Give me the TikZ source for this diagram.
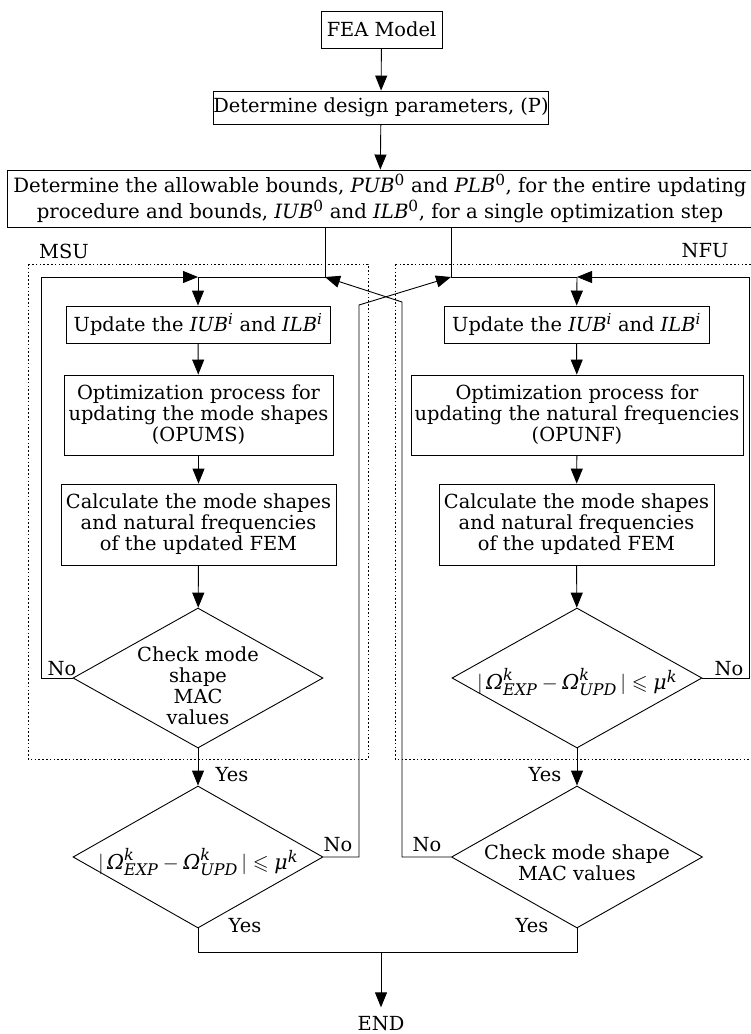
\RequirePackage{fix-cm}
\documentclass[tikz,border=0pt]{standalone}
\usepackage{amsmath,amssymb}
\usepackage{fontspec}
\setmainfont{DejaVu Serif}
\usetikzlibrary{arrows.meta,shapes.geometric}

\renewcommand{\defaultscriptratio}{.78}
\newcommand{\bodysize}{\fontsize{19.4}{21}\selectfont}
\newcommand{\widesize}{\fontsize{19.7}{26}\selectfont}
\newcommand{\formsize}{\fontsize{20.5}{21}\selectfont}
\newcommand{\vit}[1]{\text{\itshape #1}}
\newcommand{\freqtest}{$|\,\vit{Ω}^{\vit{k}}_{\vit{EXP}}-\vit{Ω}^{\vit{k}}_{\vit{UPD}}\,|\leqslant\vit{μ}^{\vit{k}}$}
\newcommand{\bnds}[1]{\textit{#1}\textsuperscript{\itshape i}}

\begin{document}
\begin{tikzpicture}[x=1pt,y=-1pt,line width=0.9pt,
  box/.style={draw,align=center,inner sep=0pt,font=\bodysize},
  decision/.style={draw,diamond,inner sep=0pt},
  txt/.style={align=center,inner sep=0pt,font=\bodysize},
  region/.style={draw,dash pattern=on 1.6pt off 2.2pt},
  arr/.style={-{Triangle[length=15pt,width=12pt]}},
  lbl/.style={inner sep=0pt,font=\bodysize}]
\clip (0,0) rectangle (751,1034);

% main sequence
\node[box,minimum width=121pt,minimum height=37pt] (fea) at (381.5,29.5) {FEA Model};
\node[box,minimum width=260pt,minimum height=33pt] (par) at (381,107.5) {Determine design parameters, (P)};
\node[box,font=\widesize,minimum width=746pt,minimum height=57pt] (bnd) at (380,198.5)
  {Determine the allowable bounds, \textit{PUB}\textsuperscript{0} and \textit{PLB}\textsuperscript{0}, for the entire updating\\
   procedure and bounds, \textit{IUB}\textsuperscript{0} and \textit{ILB}\textsuperscript{0}, for a single optimization step};

% the two updating stages
\draw[region] (28,264) rectangle (368,759);
\draw[region] (395,264) rectangle (760,759);
\node[lbl] (msulbl) at (64,251) {MSU};
\node[lbl] (nfulbl) at (705,251) {NFU};

% MSU stage
\node[box,minimum width=264pt,minimum height=37pt] (mupd) at (198,324.5) {Update the \bnds{IUB} and \bnds{ILB}};
\node[box,minimum width=269pt,minimum height=80pt] (mopt) at (198.5,415) {Optimization process for\\updating the mode shapes\\(OPUMS)};
\node[box,minimum width=275pt,minimum height=81pt] (mcal) at (198.5,524.5) {Calculate the mode shapes\\and natural frequencies\\of the updated FEM};
\node[decision,minimum width=250pt,minimum height=140pt] (mchk) at (198,678) {};
\node[txt] (mchkt) at ([yshift=-8pt]mchk.center) {Check mode\\shape\\MAC\\values};
\node[decision,minimum width=250pt,minimum height=142pt] (mfrq) at (198,857) {};
\node[txt,font=\formsize] (mfrqt) at ([yshift=-5pt]mfrq.center) {\freqtest};

% NFU stage
\node[box,minimum width=265pt,minimum height=37pt] (nupd) at (576.5,324.5) {Update the \bnds{IUB} and \bnds{ILB}};
\node[box,minimum width=332pt,minimum height=80pt] (nopt) at (577,415) {Optimization process for\\updating the natural frequencies\\(OPUNF)};
\node[box,minimum width=275pt,minimum height=81pt] (ncal) at (576.5,524.5) {Calculate the mode shapes\\and natural frequencies\\of the updated FEM};
\node[decision,minimum width=250pt,minimum height=140pt] (nfrq) at (577,678) {};
\node[txt,font=\formsize] (nfrqt) at ([yshift=-4pt]nfrq.center) {\freqtest};
\node[decision,minimum width=251pt,minimum height=142pt] (nchk) at (577,857) {};
\node[txt] (nchkt) at ([yshift=-6pt]nchk.center) {Check mode shape\\MAC values};

\node[lbl] (endn) at (381,1024) {END};

% junctions on the loop tops
\coordinate (mjoin) at (198,277);
\coordinate (njoin) at (577,277);
\coordinate (min) at (325,277);
\coordinate (nin) at (451,277);
\coordinate (mrg) at (381,952);

% connectors
\draw[arr] (fea) -- (par);
\draw[arr] (par) -- (bnd);
\draw (bnd.south -| min) -- (min) -- (mjoin);
\draw (bnd.south -| nin) -- (nin) -- (njoin);

\draw[arr] (mchk.west) -- ++(-31,0) |- (mjoin);
\draw[arr] (mjoin) -- (mupd);
\draw[arr] (mupd) -- (mopt);
\draw[arr] (mopt) -- (mcal);
\draw[arr] (mcal) -- (mchk);
\draw[arr] (mchk) -- (mfrq);

\draw[arr] (nfrq.east) -- ++(47,0) |- (njoin);
\draw[arr] (njoin) -- (nupd);
\draw[arr] (nupd) -- (nopt);
\draw[arr] (nopt) -- (ncal);
\draw[arr] (ncal) -- (nfrq);
\draw[arr] (nfrq) -- (nchk);

% crossing returns
\draw[arr] (mfrq.east) -| (359,305) -- (nin);
\draw[arr] (nchk.west) -| (402,302) -- (min);

% final merge
\draw (mfrq.south) -- (mfrq.south |- mrg) -- (nchk.south |- mrg) -- (nchk.south);
\draw[arr] (mrg) -- ([yshift=9pt]endn.north);

% branch labels
\node[lbl] (y1) at (232,775) {Yes};
\node[lbl] (y2) at (545,775) {Yes};
\node[lbl] (y3) at (245,926) {Yes};
\node[lbl] (y4) at (532,926) {Yes};
\node[lbl] (n1) at (62,669) {No};
\node[lbl] (n2) at (729,669) {No};
\node[lbl] (n3) at (338,845) {No};
\node[lbl] (n4) at (427,845) {No};
\end{tikzpicture}
\end{document}
